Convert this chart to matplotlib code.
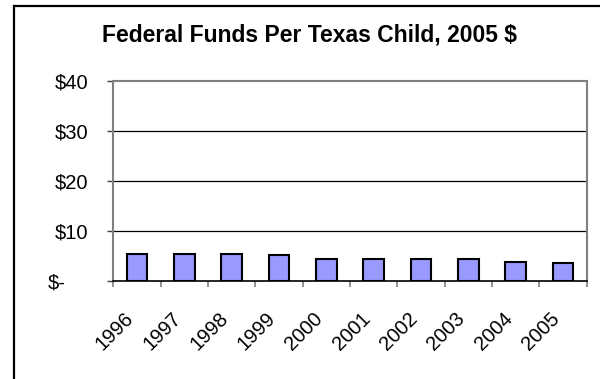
import matplotlib
matplotlib.use("Agg")
import matplotlib.pyplot as plt
import matplotlib.transforms as mtrans
from matplotlib.lines import Line2D

years = ["1996", "1997", "1998", "1999", "2000", "2001", "2002", "2003", "2004", "2005"]
funds = [5.5, 5.5, 5.5, 5.2, 4.4, 4.4, 4.4, 4.4, 3.9, 3.6]
yticks = [0, 10, 20, 30, 40]
ytick_labels = ["$-", "$10", "$20", "$30", "$40"]
title = "Federal Funds Per Texas Child, 2005 $"

plt.rcParams['font.family'] = ['Liberation Sans', 'DejaVu Sans']

W, H = 600, 379
DPI = 100
fig = plt.figure(figsize=(W / DPI, H / DPI), dpi=DPI)
fig.patch.set_facecolor("white")

# axes placement in pixels
left, right, top, bottom = 113.3, 586.7, 81, 281
ax = fig.add_axes([left / W, 1 - bottom / H, (right - left) / W, (bottom - top) / H])

x = list(range(len(years)))
ax.bar(x, funds, width=0.44, color="#9999FF", edgecolor="black", linewidth=1.5, zorder=3)

ax.set_xlim(-0.5, len(years) - 0.5)
ax.set_ylim(0, 40)

# gridlines
for v in yticks[1:-1]:
    ax.axhline(v, color="black", linewidth=0.9, zorder=1)

for s in ["top", "right", "left"]:
    ax.spines[s].set_color("#808080")
    ax.spines[s].set_linewidth(1.5)
ax.spines["bottom"].set_color("black")
ax.spines["bottom"].set_linewidth(1.2)
ax.spines["bottom"].set_zorder(4)

ax.set_yticks(yticks)
ax.set_yticklabels(ytick_labels, fontsize=14.5)
ax.tick_params(axis="y", direction="out", length=4.3, width=1, color="#404040", pad=13.7)

# x ticks at category boundaries
ax.set_xticks([i - 0.5 for i in range(len(years) + 1)])
ax.set_xticklabels([""] * (len(years) + 1))
ax.tick_params(axis="x", direction="out", length=4, width=1.2, color="#808080")

# shift "$-" label left
lbl0 = ax.get_yticklabels()[0]
lbl0.set_transform(lbl0.get_transform() + mtrans.ScaledTranslation(-23 / DPI, 0, fig.dpi_scale_trans))

# rotated year labels
off = mtrans.ScaledTranslation(-13 / DPI, -28 / DPI, fig.dpi_scale_trans)
for i, yr in enumerate(years):
    ax.text(i, 0, yr, fontsize=14.5, rotation=45, ha="right", va="top",
            rotation_mode="anchor", transform=ax.transData + off)

fig.text(309 / W, 1 - 35 / H, title, fontsize=16.5, fontweight="bold", ha="center", va="center")

# outer frame (left and top edges only visible)
fig.add_artist(Line2D([14 / W, 14 / W], [0, 1 - 6 / H], transform=fig.transFigure, color="black", linewidth=1.6))
fig.add_artist(Line2D([14 / W, 1], [1 - 6 / H, 1 - 6 / H], transform=fig.transFigure, color="black", linewidth=1.6))

fig.savefig("out.png", dpi=DPI)
